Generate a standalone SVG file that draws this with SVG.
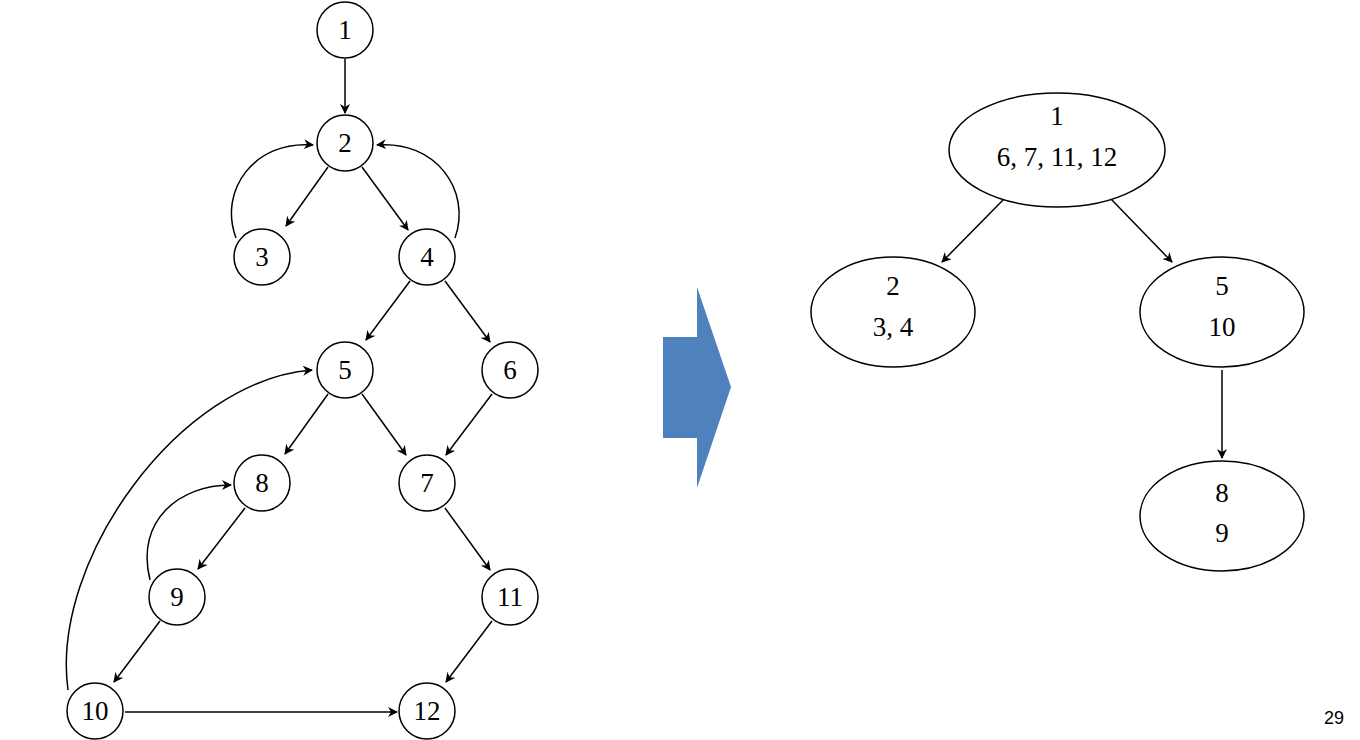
<svg xmlns="http://www.w3.org/2000/svg" width="1360" height="740" viewBox="0 0 1360 740">
<style>
.n{fill:#fff;stroke:#000;stroke-width:1.5}
.t{font-family:"Liberation Serif",serif;font-size:27px;text-anchor:middle;fill:#000}
.e{fill:none;stroke:#000;stroke-width:1.5;marker-end:url(#a)}
</style>
<defs><marker id="a" viewBox="0 0 10 10" refX="9" refY="5" markerWidth="10" markerHeight="10" markerUnits="userSpaceOnUse" orient="auto"><path d="M0,0 L10,5 L0,10 L3,5z" fill="#000"/></marker></defs>
<rect width="1360" height="740" fill="#fff"/>
<g id="connectors">
<line class="e" x1="345" y1="59" x2="345" y2="113"/>
<line class="e" x1="328" y1="167" x2="286" y2="226"/>
<line class="e" x1="362" y1="167" x2="408" y2="230"/>
<path class="e" d="M236,238 C218,190 255,140 313,145"/>
<path class="e" d="M455,238 C472,190 435,140 377,145"/>
<line class="e" x1="410" y1="281" x2="366" y2="340"/>
<line class="e" x1="445" y1="281" x2="490" y2="342"/>
<line class="e" x1="328" y1="394" x2="285" y2="454"/>
<line class="e" x1="362" y1="394" x2="406" y2="455"/>
<line class="e" x1="492" y1="394" x2="446" y2="455"/>
<line class="e" x1="445" y1="508" x2="490" y2="570"/>
<line class="e" x1="492" y1="621" x2="446" y2="682"/>
<line class="e" x1="245" y1="508" x2="198" y2="569"/>
<path class="e" d="M150,580 C135,520 180,485 231,485"/>
<line class="e" x1="160" y1="621" x2="114" y2="682"/>
<path class="e" d="M68,690 C50,560 180,380 312,370"/>
<line class="e" x1="125" y1="712" x2="397" y2="712"/>
<line class="e" x1="1005" y1="198" x2="942" y2="262"/>
<line class="e" x1="1110" y1="198" x2="1172" y2="262"/>
<line class="e" x1="1222" y1="370" x2="1222" y2="458"/>
</g>
<g id="n1"><circle class="n" cx="345" cy="30" r="28"/><text class="t" x="345" y="39">1</text></g>
<g id="n2"><circle class="n" cx="345" cy="143" r="28"/><text class="t" x="345" y="152">2</text></g>
<g id="n3"><circle class="n" cx="262" cy="257" r="28"/><text class="t" x="262" y="266">3</text></g>
<g id="n4"><circle class="n" cx="427" cy="257" r="28"/><text class="t" x="427" y="266">4</text></g>
<g id="n5"><circle class="n" cx="345" cy="370" r="28"/><text class="t" x="345" y="379">5</text></g>
<g id="n6"><circle class="n" cx="510" cy="370" r="28"/><text class="t" x="510" y="379">6</text></g>
<g id="n7"><circle class="n" cx="427" cy="483" r="28"/><text class="t" x="427" y="492">7</text></g>
<g id="n8"><circle class="n" cx="262" cy="483" r="28"/><text class="t" x="262" y="492">8</text></g>
<g id="n9"><circle class="n" cx="177" cy="597" r="28"/><text class="t" x="177" y="606">9</text></g>
<g id="n10"><circle class="n" cx="95" cy="711" r="28"/><text class="t" x="95" y="720">10</text></g>
<g id="n11"><circle class="n" cx="510" cy="597" r="28"/><text class="t" x="510" y="606">11</text></g>
<g id="n12"><circle class="n" cx="427" cy="711" r="28"/><text class="t" x="427" y="720">12</text></g>
<polygon points="663,337 697,337 697,287 731,387 697,488 697,438 663,438" fill="#4f81bd"/>
<g id="A"><ellipse class="n" cx="1057" cy="150" rx="108" ry="57"/><text class="t" x="1057" y="125">1</text><text class="t" x="1057" y="166">6, 7, 11, 12</text></g>
<g id="B"><ellipse class="n" cx="893" cy="312" rx="82" ry="55"/><text class="t" x="893" y="295">2</text><text class="t" x="893" y="336">3, 4</text></g>
<g id="C"><ellipse class="n" cx="1222" cy="312" rx="82" ry="55"/><text class="t" x="1222" y="295">5</text><text class="t" x="1222" y="336">10</text></g>
<g id="D"><ellipse class="n" cx="1222" cy="516" rx="82" ry="55"/><text class="t" x="1222" y="502">8</text><text class="t" x="1222" y="542">9</text></g>
<text x="1334" y="724" font-family="Liberation Sans,sans-serif" font-size="18" text-anchor="middle">29</text>
</svg>
